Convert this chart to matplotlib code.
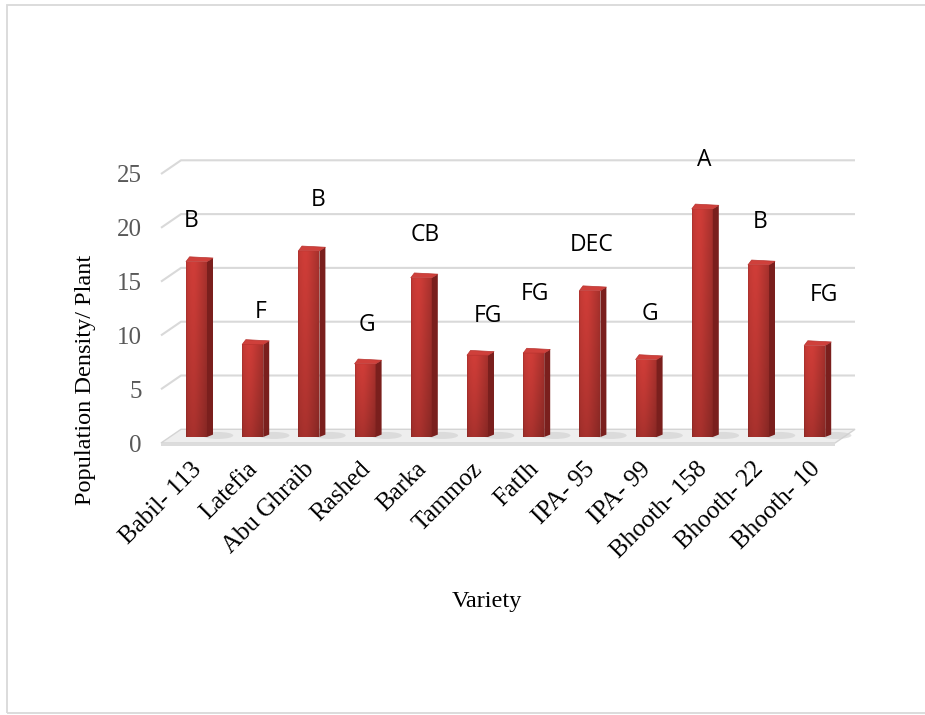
import numpy as np
import matplotlib
matplotlib.use("Agg")
import matplotlib.pyplot as plt
from matplotlib.patches import Polygon, Rectangle, Ellipse

# ---- data -------------------------------------------------------------
varieties = ["Babil- 113", "Latefia", "Abu Ghraib", "Rashed", "Barka", "Tammoz",
             "FatIh", "IPA- 95", "IPA- 99", "Bhooth- 158", "Bhooth- 22", "Bhooth- 10"]
density = [16.3, 8.6, 17.3, 6.8, 14.8, 7.6, 7.8, 13.6, 7.2, 21.2, 16.0, 8.5]
groups = ["B", "F", "B", "G", "CB", "FG", "FG", "DEC", "G", "A", "B", "FG"]
y_ticks = [0, 5, 10, 15, 20, 25]

# letter placement (height in data units, horizontal nudge in points)
group_y = [20.1, 11.6, 22.0, 10.4, 18.8, 11.2, 13.3, 17.8, 11.4, 25.7, 20.0, 13.2]
group_dx = [-4, 5.5, 6.5, 1, 2.5, 7.5, 1, 1.5, 3, 1.2, 1, 6.5]

# ---- figure / axes ----------------------------------------------------
W, H = 925, 715
fig = plt.figure(figsize=(W / 100, H / 100), dpi=100)
fig.patch.set_facecolor("white")

serif = "Liberation Serif"
sans = "Open Sans"

x_step = 56.2     # px per category
y_step = 10.76    # px per unit
x0_px = 196.5     # px of first bar centre
base_px = 437.0   # px (from top) of value 0 on the bar plane
xlim = (-1, 12)
ylim = (-2, 27)
left = (x0_px + xlim[0] * x_step) / W
width = (xlim[1] - xlim[0]) * x_step / W
bottom = (H - (base_px - ylim[0] * y_step)) / H
height = (ylim[1] - ylim[0]) * y_step / H
ax = fig.add_axes([left, bottom, width, height])
ax.set_xlim(*xlim)
ax.set_ylim(*ylim)
ax.axis("off")

# depth offsets of the pseudo-3D box, in data units
def px_x(p):
    return p / x_step

def px_y(p):
    return p / y_step

# chart-area border
fig.patches.append(Rectangle((7 / W, 2 / H), 1.2, (713 - 5) / H, transform=fig.transFigure,
                             fill=False, edgecolor="#d9d9d9", linewidth=1.3))

# ---- walls: gridlines -------------------------------------------------
front_left = px_x(161 - x0_px)
back_left = px_x(181 - x0_px)
back_right = px_x(855 - x0_px)
front_off = px_y(-6)     # front plane relative to bar plane
back_off = px_y(7.7)     # back wall relative to bar plane
grid_c = "#d9d9d9"
for v in y_ticks[1:]:
    ax.plot([front_left, back_left, back_right], [v + front_off, v + back_off, v + back_off],
            color=grid_c, lw=1.5, solid_capstyle="butt", zorder=1, clip_on=False)
for v in y_ticks:
    ax.text(px_x(142 - x0_px), v + front_off - px_y(2.5), str(v), ha="right", va="center",
            fontsize=18, family=serif, color="#595959")

# ---- floor ------------------------------------------------------------
front_right = px_x(835 - x0_px)
floor = Polygon([(front_left, front_off), (front_right, front_off),
                 (back_right, back_off), (back_left, back_off)],
                closed=True, facecolor="#eeeeee", edgecolor="#d4d4d4", lw=1.0, zorder=2)
ax.add_patch(floor)
ax.add_patch(Polygon([(front_left, front_off), (front_right, front_off),
                      (front_right, front_off - px_y(3)), (front_left, front_off - px_y(3))],
                     closed=True, facecolor="#dcdcdc", edgecolor="none", zorder=2))

# ---- bars -------------------------------------------------------------
bw = px_x(21)          # front-face width
ddx, ddy = px_x(6), px_y(6)

nx, ny = 40, 80
xs = np.linspace(0, 1, nx)
ys = np.linspace(0, 1, ny)
horiz = 0.93 + 0.09 * np.exp(-((xs - 0.35) / 0.3) ** 2) - 0.12 * xs ** 4
horiz[:2] *= 0.9
base_rgb = np.array([0.80, 0.235, 0.215])

for i, v in enumerate(density):
    x0 = i - bw / 2
    x1 = i + bw / 2
    # soft shadow on the floor
    ax.add_patch(Ellipse((x1 + ddx * 1.8, back_off * 0.2), 0.55, px_y(7), angle=0,
                         facecolor="#cfcfcf", edgecolor="none", alpha=0.6, zorder=3))
    vert = 0.80 + 0.20 * (ys ** 0.8)
    img = base_rgb[None, None, :] * (vert[:, None, None] * horiz[None, :, None])
    img = np.clip(img, 0, 1)
    im = ax.imshow(img, extent=(x0, x1, 0, v), origin="lower", aspect="auto",
                   interpolation="bilinear", zorder=5)
    clip = Rectangle((x0, 0), bw, v, transform=ax.transData, facecolor="none", edgecolor="none")
    ax.add_patch(clip)
    im.set_clip_path(clip)
    # side face
    ax.add_patch(Polygon([(x1, 0), (x1 + ddx, ddy * 0.4), (x1 + ddx, v + ddy * 0.6), (x1, v)],
                         closed=True, facecolor="#7a1f1d", edgecolor="none", zorder=5))
    # top face
    ax.add_patch(Polygon([(x0, v), (x1, v), (x1 + ddx, v + ddy * 0.6),
                          (x0 + ddx * 0.6, v + ddy * 0.8)],
                         closed=True, facecolor="#cf403b", edgecolor="#b8332f", lw=0.5,
                         zorder=6, joinstyle="round"))
    # significance letter
    ax.annotate(groups[i], (i, group_y[i]), xytext=(group_dx[i], 0), textcoords="offset points",
                ha="center", va="center", fontsize=16.5, family=sans, color="black", zorder=8)
    # category label
    ax.text(i - px_x(6), front_off - px_y(15), varieties[i], rotation=45, rotation_mode="anchor",
            ha="right", va="top", fontsize=18, family=serif, color="black")

# ---- axis titles ------------------------------------------------------
fig.text(85 / W, 1 - 380 / H, "Population Density/ Plant", rotation=90, ha="center",
         va="center", fontsize=17.5, family=serif, color="black")
fig.text(487 / W, 1 - 601 / H, "Variety", ha="center", va="center", fontsize=17.5,
         family=serif, color="black")

fig.savefig("out.png", dpi=100, facecolor="white")
